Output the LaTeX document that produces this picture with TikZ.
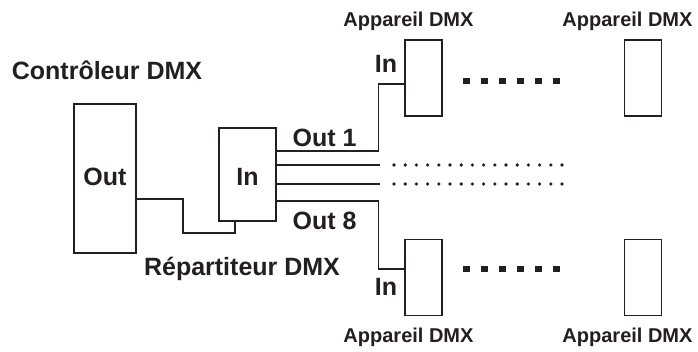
\documentclass[tikz,border=0pt]{standalone}
\usepackage{fontspec}
\setmainfont{Liberation Sans}
\definecolor{ink}{HTML}{231F20}

\begin{document}
\begin{tikzpicture}[x=1pt,y=-1pt]
    \tikzstyle{every node}=[font=\bfseries\fontsize{25}{30}\selectfont, text=ink]
    \tikzstyle{box}=[draw=ink, line width=1.2pt, inner sep=0pt]
    \tikzstyle{device}=[box, minimum width=37pt, minimum height=76pt]
    \tikzstyle{label}=[anchor=base, inner sep=0pt]
    \tikzstyle{small}=[label, font=\bfseries\fontsize{20}{24}\selectfont]
    \tikzstyle{wire}=[draw=ink, line width=1.2pt]

    \useasboundingbox (0,0) rectangle (698,352);

    % boxes
    \node[box, minimum width=62pt, minimum height=149pt] (ctrl) at (105,178.5) {};
    \node[box, minimum width=57pt, minimum height=93pt] (split) at (247.5,174.5) {};
    \node[device] (dev1) at (423.5,78) {};
    \node[device] (dev2) at (643,78) {};
    \node[device] (dev3) at (423.5,277.5) {};
    \node[device] (dev4) at (643,277.5) {};

    % wires
    \draw[wire] ([yshift=-20.5]ctrl.east) -| (183,233) -| ([xshift=-12.5]split.south);
    \draw[wire] ([yshift=23.5]split.east) -| ([xshift=-26,yshift=-6]dev1.west) -- ([yshift=-6]dev1.west);
    \draw[wire] ([yshift=-26.5]split.east) -| ([xshift=-26,yshift=8.5]dev3.west) -- ([yshift=8.5]dev3.west);
    \draw[wire] ([yshift=9.5]split.east) -- ++(103,0);
    \draw[wire] ([yshift=-9.5]split.east) -- ++(103,0);

    \foreach \y in {165,184}{
        \foreach \i in {0,...,15}
            \fill[ink] (394+\i*11.2,\y) circle (1.8);
    }
    \foreach \y in {78,266}{
        \foreach \i in {0,...,5}
            \fill[ink] (463+\i*18,\y) rectangle ++(6.5,6.5);
    }

    % labels
    \node[label] (outlbl) at (105,186) {Out};
    \node[label] (inlbl) at (247.5,186) {In};
    \node[label] (ctrllbl) at (107,80) {Contrôleur DMX};
    \node[label] (splitlbl) at (242,276) {Répartiteur DMX};
    \node[label] (out1) at (324.5,146.5) {Out 1};
    \node[label] (out8) at (324.5,230) {Out 8};
    \node[label] (in1) at (386,73) {In};
    \node[label] (in8) at (386,295) {In};
    \node[small] (dev1lbl) at (408.5,27) {Appareil DMX};
    \node[small] (dev2lbl) at (627.5,27) {Appareil DMX};
    \node[small] (dev3lbl) at (408.5,342) {Appareil DMX};
    \node[small] (dev4lbl) at (627.5,342) {Appareil DMX};
\end{tikzpicture}
\end{document}
